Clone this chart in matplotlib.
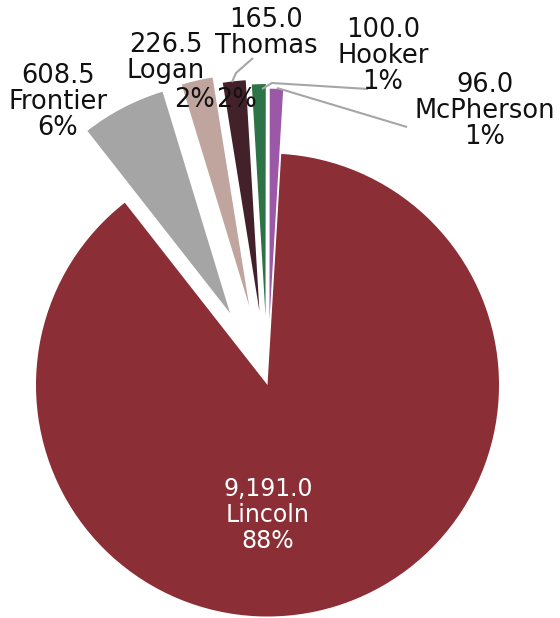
import matplotlib
matplotlib.use("Agg")
import matplotlib.pyplot as plt

# data
names = ["Lincoln", "Frontier", "Logan", "Thomas", "Hooker", "McPherson"]
values = [9191.0, 608.5, 226.5, 165.0, 100.0, 96.0]
colors = ["#8B2E35", "#A5A5A5", "#BFA59E", "#43212B", "#2E7247", "#9A58A6"]
explode = [0.0, 0.35, 0.35, 0.32, 0.30, 0.28]

W, H = 560, 618
CX, CY, R = 267.5, 385.0, 231.5   # pie centre / radius in pixels


def px(x, y):
    """pixel (from top-left) -> data coords"""
    return (x - CX) / R, (CY - y) / R


fig = plt.figure(figsize=(W / 100, H / 100), dpi=100)
ax = fig.add_axes([0, 0, 1, 1])

ax.pie(values, colors=colors, explode=explode, startangle=86.6,
       counterclock=False, radius=1.0,
       wedgeprops=dict(linewidth=0))

ax.set_xlim(px(0, 0)[0], px(W, 0)[0])
ax.set_ylim(px(0, H)[1], px(0, 0)[1])
ax.set_aspect("auto")
ax.axis("off")

total = sum(values)
pcts = [f"{v / total * 100:.0f}%" for v in values]
vals = [f"{v:,.1f}" for v in values]

FONT = "DejaVu Sans"
OUT_SIZE = 18.5


def put(x, y, s, size=OUT_SIZE, color="#111111"):
    ax.text(*px(x, y), s, ha="center", va="center", fontsize=size,
            color=color, family=FONT)


def block(x, y, lines, step=26, size=OUT_SIZE, color="#111111"):
    # y is the centre of the first line
    for i, s in enumerate(lines):
        put(x, y + i * step, s, size, color)


# Lincoln (inside, white)
block(268, 489, [vals[0], names[0], pcts[0]], step=26, size=17, color="white")
# Frontier
block(58, 76, [vals[1], names[1], pcts[1]])
# Logan
block(166, 45, [vals[2], names[2]])
put(195, 100, pcts[2])
# Thomas
block(266, 20, [vals[3], names[3]])
put(237, 100, pcts[3])
# Hooker
block(383, 30, [vals[4], names[4], pcts[4]])
# McPherson
block(485, 85, [vals[5], names[5], pcts[5]])

# leader lines
leaders = [
    [(232, 82), (236, 73), (253, 58)],          # Thomas
    [(262, 89), (272, 83), (368, 89)],          # Hooker
    [(277, 88), (407, 127)],                    # McPherson
]
for pts in leaders:
    xs, ys = zip(*[px(a, b) for a, b in pts])
    ax.plot(xs, ys, color="#A6A6A6", lw=1.5, solid_capstyle="butt")

fig.savefig("out.png", dpi=100)
